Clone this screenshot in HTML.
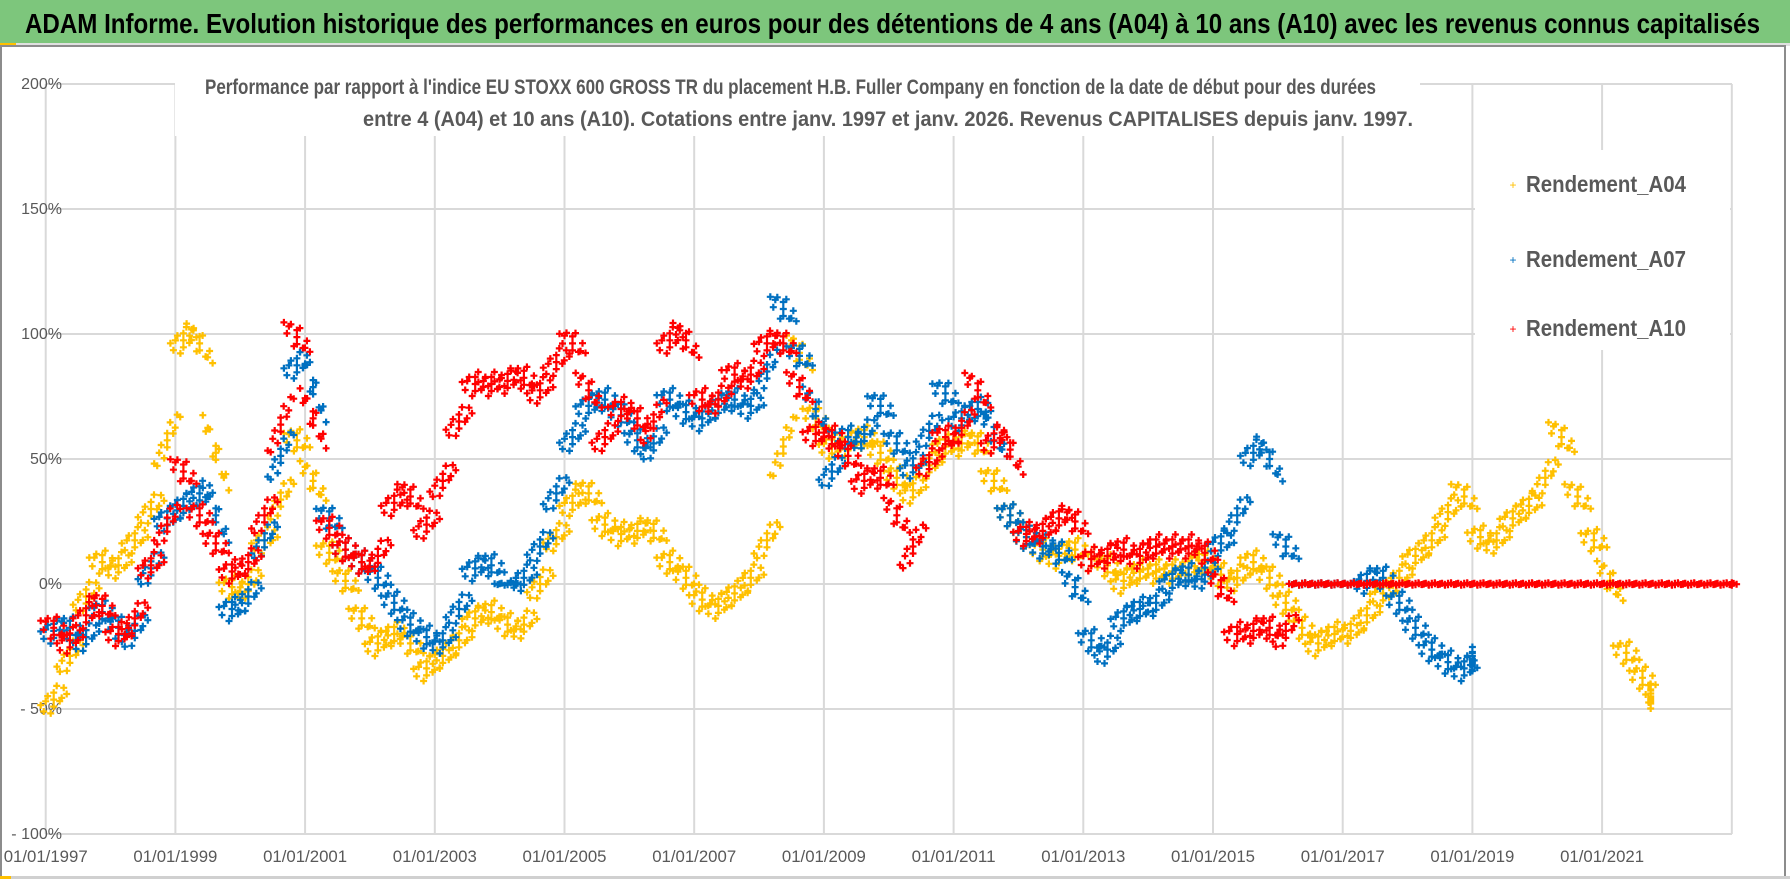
<!DOCTYPE html>
<html><head><meta charset="utf-8"><style>
html,body{margin:0;padding:0;background:#fff;}
svg{display:block;}
text{font-family:"Liberation Sans Narrow","Liberation Sans",sans-serif;}
</style></head><body>
<svg id="chart" width="1790" height="886" viewBox="0 0 1790 886" xmlns="http://www.w3.org/2000/svg">
<rect x="0" y="0" width="1790" height="886" fill="#fff"/>
<rect x="0" y="0" width="1790" height="43" fill="#7dc67c"/>
<text x="25" y="33" font-size="28" font-weight="bold" fill="#000" textLength="1735" lengthAdjust="spacingAndGlyphs">ADAM Informe. Evolution historique des performances en euros pour des détentions de 4 ans (A04) à 10 ans (A10) avec les revenus connus capitalisés</text>
<rect x="0" y="43" width="1790" height="3" fill="#e0e0e0"/>
<rect x="0" y="43" width="16" height="3" fill="#ffc000"/>
<rect x="1" y="46" width="1784" height="832" fill="none" stroke="#8c8c8c" stroke-width="2"/>
<rect x="0" y="876" width="1790" height="3" fill="#d0d0d0"/>
<rect x="0" y="876" width="11" height="3" fill="#ffc000"/>
<g id="grid"></g>
<g id="yticks"></g>
<g id="xticks"></g>
<g id="marks"></g>
<rect x="175" y="68" width="1245" height="68" fill="#fff"/>
<text x="205" y="94" font-size="21" font-weight="bold" fill="#595959" textLength="1171" lengthAdjust="spacingAndGlyphs">Performance par rapport à l'indice EU STOXX 600 GROSS TR  du placement H.B. Fuller Company en fonction de la date de début pour des durées</text>
<text x="363" y="126" font-size="21" font-weight="bold" fill="#595959" textLength="1050" lengthAdjust="spacingAndGlyphs">entre 4 (A04) et 10 ans (A10).  Cotations entre janv. 1997 et janv. 2026. Revenus CAPITALISES  depuis janv. 1997.</text>
<rect x="1475" y="150" width="255" height="200" fill="#fff"/>
<g>
<text x="1513" y="189" font-size="12" fill="#ffc000" text-anchor="middle">+</text>
<text x="1526" y="192" font-size="23" font-weight="bold" fill="#595959" textLength="160" lengthAdjust="spacingAndGlyphs">Rendement_A04</text></g>
<g>
<text x="1513" y="264" font-size="12" fill="#0070c0" text-anchor="middle">+</text>
<text x="1526" y="267" font-size="23" font-weight="bold" fill="#595959" textLength="160" lengthAdjust="spacingAndGlyphs">Rendement_A07</text></g>
<g>
<text x="1513" y="333" font-size="12" fill="#ff0000" text-anchor="middle">+</text>
<text x="1526" y="336" font-size="23" font-weight="bold" fill="#595959" textLength="160" lengthAdjust="spacingAndGlyphs">Rendement_A10</text></g>
</svg>
<script>
const yTickValues = [200, 150, 100, 50, 0, -50, -100];
const yTickLabels = ["200%", "150%", "100%", "50%", "0%", "- 50%", "- 100%"];
const xTickYears = [1997, 1999, 2001, 2003, 2005, 2007, 2009, 2011, 2013, 2015, 2017, 2019, 2021];
const xTickLabels = ["01/01/1997","01/01/1999","01/01/2001","01/01/2003","01/01/2005","01/01/2007","01/01/2009","01/01/2011","01/01/2013","01/01/2015","01/01/2017","01/01/2019","01/01/2021"];
const startYear = 1997;
const stepYears = 0.25;
const rendementA04 = [-50,-35,-10,10, 5,15,25,45, 95,105,70,0, -5,15,25,60, 50,15,5,-10, -25,-20,-20,-35, -30,-25,-15,-10, -15,-20,-5,15, 30,40,25,20, 20,25,10,5, -5,-10,-5,0, 10,40,100,70, 55,55,60,55, 45,35,45,55, 55,60,45,30, 20,15,10,15, 10,10,0,5, 5,5,5,10, 5,0,10,5, -5,-15,-25,-20, -20,-15,-5,0, 10,15,25,40, 20,15,25,30, 35,65,40,20, 10,-25,-35,-45];
const rendementA07 = [-20,-15,-25,-10, -15,-25,0,25, 30,35,40,-10, -10,10,40,85, 95,30,15,10, 5,-5,-15,-20, -25,-15,5,10, 0,0,10,30, 55,70,75,70, 60,50,75,70, 65,70,75,70, 75,115,95,80, 40,60,55,75, 60,45,55,80, 65,70,70,30, 20,15,15,5, -20,-30,-15,-10, -10,0,5,0, 15,20,50,60, 20,0,0,0, 0,0,5,-5, -15,-25,-30,-35, -30];
const rendementA10 = [-15,-25,-15,-5, -20,-20,5,15, 50,30,20,5, 5,20,50,105, 80,25,15,10, 5,30,40,20, 35,60,80,80, 80,85,75,85, 100,85,55,70, 70,55,95,105, 75,70,85,80, 95,100,85,60, 60,55,40,45, 35,5,45,60, 55,85,55,65, 20,20,25,30, 10,10,15,10, 15,15,15,15, 5,-20,-20,-15, -25,0,0,0, 0,0,0,0, 0,0,0,0, 0,0,0,0, 0,0,0,0, 0,0,0,0, 0,0,0,0, 0];

const NS = "http://www.w3.org/2000/svg";
const plotL = 45.7, plotR = 1732, plotT = 84, plotB = 834;
function xScale(year){ return plotL + (year - 1997) * 64.85; }
function yScale(v){ return 584 - v * 2.5; }

const grid = document.getElementById('grid');
yTickValues.forEach((v, i) => {
  const l = document.createElementNS(NS, 'line');
  
  
  l.setAttribute('x1', plotL); l.setAttribute('x2', plotR);
  l.setAttribute('y1', yScale(v)); l.setAttribute('y2', yScale(v));
  l.setAttribute('stroke', '#d9d9d9'); l.setAttribute('stroke-width', '2');
  grid.appendChild(l);
  const t = document.createElementNS(NS, 'text');
  
  
  t.setAttribute('x', 62); t.setAttribute('y', yScale(v) + 5);
  t.setAttribute('text-anchor', 'end'); t.setAttribute('font-size', '16'); t.setAttribute('fill', '#595959');
  t.textContent = yTickLabels[i];
  document.getElementById('yticks').appendChild(t);
});
xTickYears.concat([2023]).forEach((yr, i) => {
  const l = document.createElementNS(NS, 'line');
  
  
  l.setAttribute('x1', xScale(yr)); l.setAttribute('x2', xScale(yr));
  l.setAttribute('y1', plotT); l.setAttribute('y2', plotB);
  l.setAttribute('stroke', '#d9d9d9'); l.setAttribute('stroke-width', '2');
  grid.appendChild(l);
  if (i < xTickLabels.length) {
    const t = document.createElementNS(NS, 'text');
    
    
    t.setAttribute('x', xScale(yr)); t.setAttribute('y', 862);
    t.setAttribute('text-anchor', 'middle'); t.setAttribute('font-size', '17'); t.setAttribute('fill', '#595959');
    t.setAttribute('textLength', '84'); t.setAttribute('lengthAdjust', 'spacingAndGlyphs');
    t.textContent = xTickLabels[i];
    document.getElementById('xticks').appendChild(t);
  }
});

const marks = document.getElementById('marks');
const cluster = [[0,0],[-6,-7],[6,5],[-10,6],[10,-6],[-3,12],[3,-12],[-13,-2],[13,2],[-8,-3],[8,3],[0,7],[0,-7]];
function drawSeries(values, color, name){
  const g = document.createElementNS(NS, 'g');
  
  
  let d = '';
  values.forEach((v, i) => {
    const cx = xScale(startYear + i * stepYears), cy = yScale(v);
    const next = i + 1 < values.length ? values[i + 1] : v;
    const flat = (v === 0 && next === 0);
    cluster.forEach(([dx, dy]) => {
      const frac = (dx + 16) / 32;
      let px = cx + dx + 8;
      if (i === values.length - 1) px = Math.min(px, cx);
      const py = yScale(v + (next - v) * frac * 0.5) + dy * (flat ? 0.1 : 1);
      d += 'M' + (px - 3.5).toFixed(1) + ' ' + py.toFixed(1) + 'h7M' + px.toFixed(1) + ' ' + (py - 3.5).toFixed(1) + 'v7';
    });
  });
  const p = document.createElementNS(NS, 'path');
  
  
  p.setAttribute('d', d);
  p.setAttribute('stroke', color); p.setAttribute('stroke-width', '2.2'); p.setAttribute('fill', 'none');
  g.appendChild(p);
  marks.appendChild(g);
}
drawSeries(rendementA04, '#ffc000', 'series-a04');
drawSeries(rendementA07, '#0070c0', 'series-a07');
drawSeries(rendementA10, '#ff0000', 'series-a10');
</script>
</body></html>
